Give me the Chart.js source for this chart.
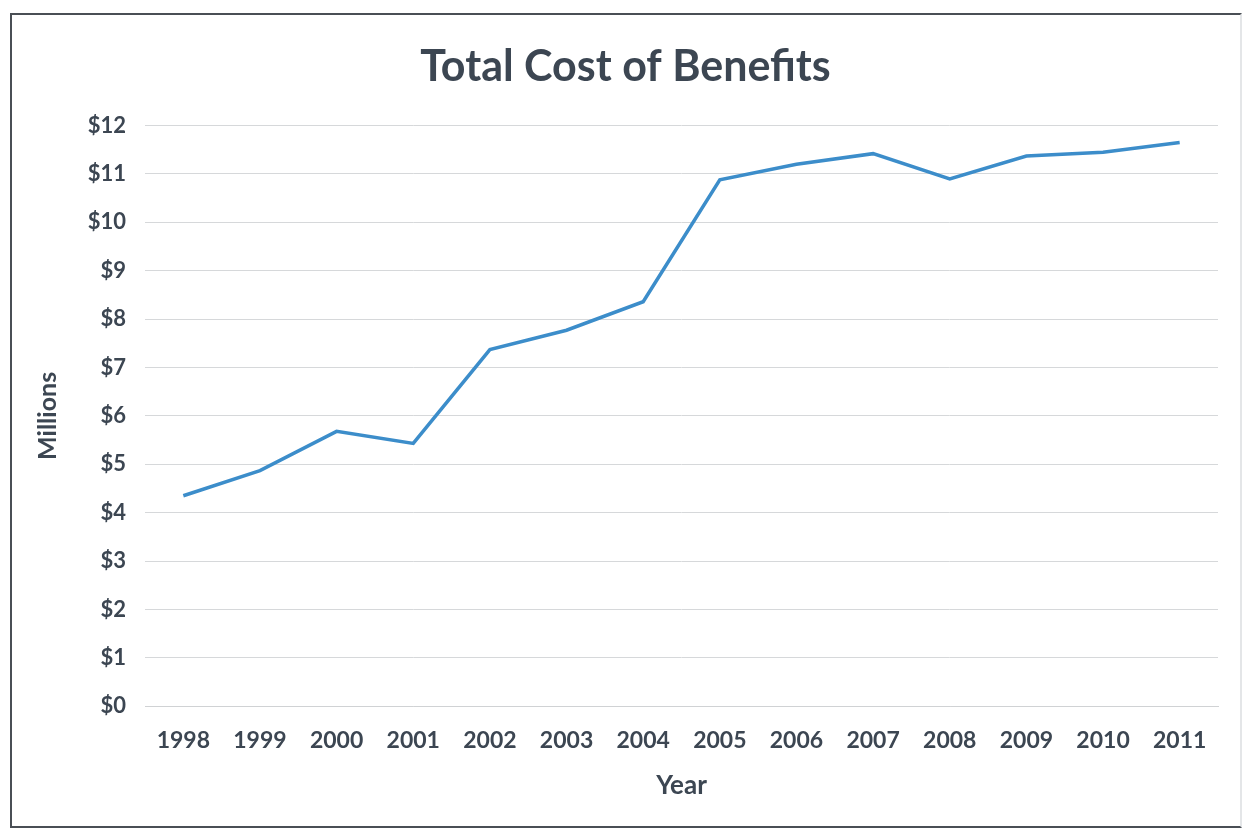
<!DOCTYPE html>
<html>
<head>
<meta charset="utf-8">
<script src="https://cdn.jsdelivr.net/npm/chart.js@4.4.1/dist/chart.umd.min.js"></script>
<style>
    html, body { margin: 0; padding: 0; background: #fff; }
    #wrap { position: relative; width: 1248px; height: 831px; overflow: hidden; }
    #frame {
        position: absolute; left: 10px; top: 13px; width: 1228px; height: 811px;
        border: 2px solid #4a4f55; border-right-color: #e4e6e8;
        pointer-events: none;
    }
    canvas { position: absolute; left: 0; top: 0; }
</style>
</head>
<body>
<div id="wrap">
    <canvas id="chart" width="1248" height="831"></canvas>
    <div id="frame"></div>
</div>
<script>
// data (millions of dollars)
const years = ['1998', '1999', '2000', '2001', '2002', '2003', '2004',
               '2005', '2006', '2007', '2008', '2009', '2010', '2011'];
const totalCost = [4.35, 4.87, 5.68, 5.43, 7.37, 7.77, 8.36,
                   10.88, 11.2, 11.42, 10.9, 11.37, 11.45, 11.65];
const yTicks = [0, 1, 2, 3, 4, 5, 6, 7, 8, 9, 10, 11, 12];

const textColor = '#3c4652';
const fontFamily = 'Lato, "Open Sans", sans-serif';

const ctx = document.getElementById('chart').getContext('2d');
new Chart(ctx, {
    type: 'line',
    data: {
        labels: years,
        datasets: [{
            label: 'Total Cost',
            data: totalCost,
            borderColor: '#3c8dca',
            borderWidth: 3.5,
            pointRadius: 0,
            tension: 0,
            fill: false
        }]
    },
    options: {
        responsive: false,
        animation: false,
        layout: { padding: { left: 33, right: 30, top: 0, bottom: 28 } },
        plugins: {
            legend: { display: false },
            tooltip: { enabled: false },
            title: {
                display: true,
                text: 'Total Cost of Benefits',
                color: textColor,
                font: { family: fontFamily, size: 43, weight: 'bold' },
                padding: { top: 41, bottom: 33 }
            }
        },
        scales: {
            x: {
                offset: true,
                grid: { display: false, drawTicks: false },
                border: { display: true, color: '#d0d2d4', width: 1 },
                ticks: {
                    color: textColor,
                    padding: 21,
                    maxRotation: 0,
                    autoSkip: false,
                    font: { family: fontFamily, size: 23, weight: 'bold' }
                },
                title: {
                    display: true,
                    text: 'Year',
                    color: textColor,
                    padding: { top: -6, bottom: 2 },
                    font: { family: fontFamily, size: 26, weight: 'bold' }
                }
            },
            y: {
                min: yTicks[0],
                max: yTicks[yTicks.length - 1],
                afterFit: scale => { scale.width = 112; },
                grid: { color: '#d6d8da', lineWidth: 1, drawTicks: false },
                border: { display: false },
                ticks: {
                    stepSize: 1,
                    padding: 19,
                    color: textColor,
                    font: { family: fontFamily, size: 22, weight: 'bold' },
                    callback: v => '$' + v
                },
                title: {
                    display: true,
                    text: 'Millions',
                    color: textColor,
                    padding: { top: 0, bottom: 0 },
                    font: { family: fontFamily, size: 25, weight: 'bold' }
                }
            }
        }
    }
});
</script>
</body>
</html>
